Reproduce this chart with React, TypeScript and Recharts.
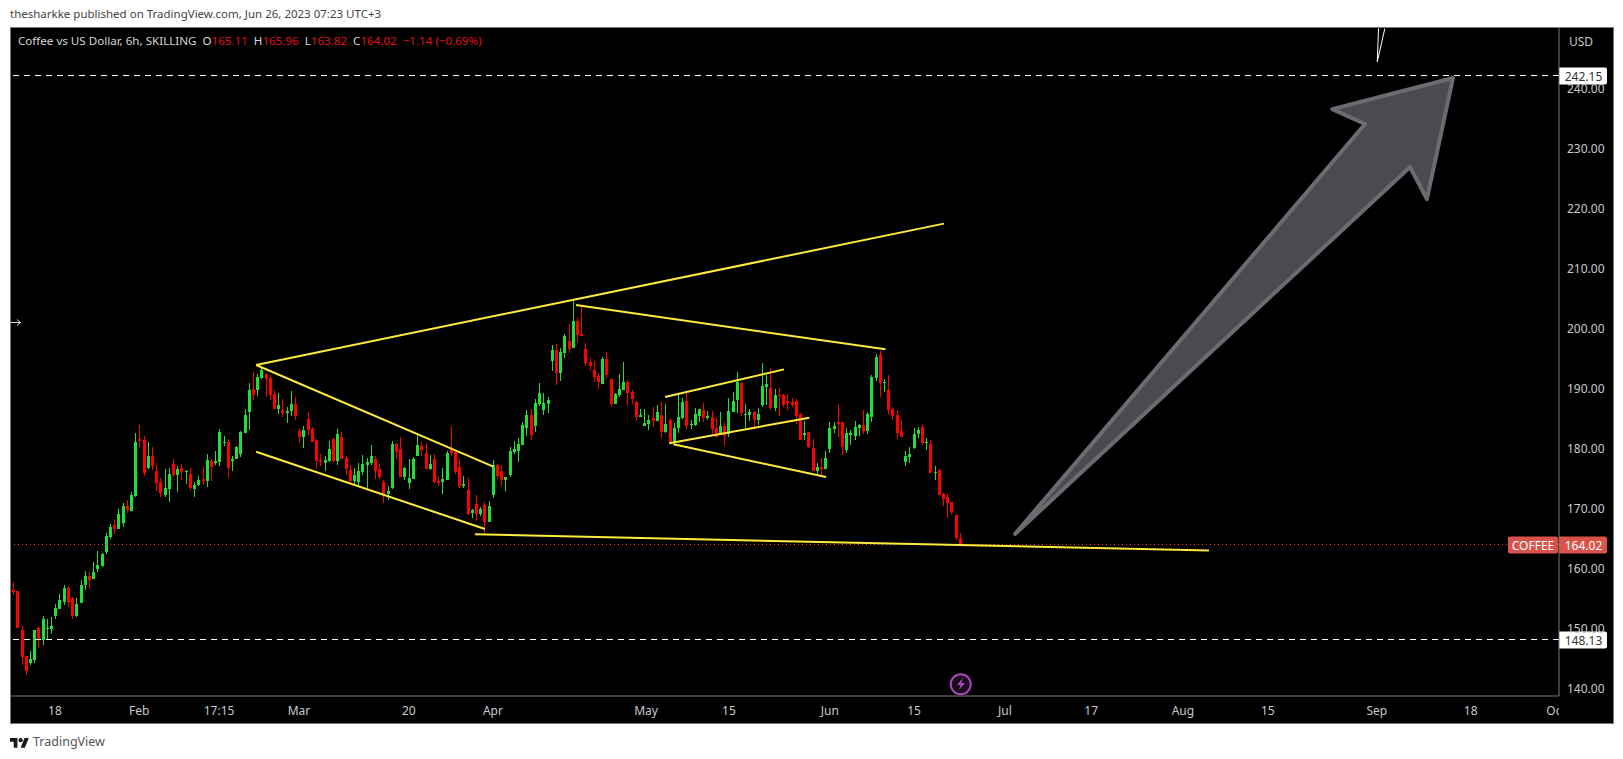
import React from 'react';
import { ComposedChart, Bar, Line, XAxis, YAxis, ReferenceLine } from 'recharts';

// Coffee vs USD, 6h candles
const opens = [
  156.43,156.27,149.77,145.43,144.27,144.77,150.1,148.1,149.93,149.93,
  152.1,153.27,154.43,156.77,155.1,152.1,154.27,157.27,158.77,158.27,
  159.93,160.43,162.77,165.27,167.27,166.6,167.6,170.43,169.6,172.1,
  181.6,181.43,176.77,178.77,176.27,174.43,172.27,173.27,177.43,175.6,
  176.77,176.1,175.77,173.27,173.93,174.93,174.6,177.93,177.6,177.77,
  180.93,181.1,177.93,178.27,179.1,182.6,186.1,189.93,189.77,191.77,
  192.43,191.77,189.1,186.6,186.43,185.93,186.27,187.43,182.93,181.93,
  184.93,183.27,181.43,178.1,177.6,177.93,181.6,177.93,181.93,178.43,
  176.43,174.6,174.43,176.1,177.27,177.6,178.27,176.6,174.43,172.43,
  173.43,180.77,179.93,175.27,174.27,174.93,178.77,180.43,179.27,176.6,
  178.27,174.6,174.43,174.77,180.1,179.43,176.93,173.77,173.1,169.27,
  170.77,169.1,170.6,167.77,172.27,177.27,176.32,174.77,175.6,179.43,
  179.6,180.6,183.43,185.6,183.77,187.43,186.43,187.43,194.6,196.43,
  192.6,195.93,197.93,196.77,201.27,199.1,196.6,194.43,193.1,192.1,
  190.77,194.93,191.6,187.43,188.93,189.77,191.1,189.43,187.77,185.27,
  183.77,184.1,185.1,184.6,185.6,182.77,184.77,180.93,183.43,185.1,
  187.93,183.93,183.93,185.43,186.43,185.1,185.27,183.43,182.6,183.77,
  182.43,186.1,188.1,190.93,185.6,185.6,186.1,184.77,187.27,190.27,
  190.1,186.77,188.93,188.93,187.93,187.77,187.93,185.77,182.27,182.77,
  180.1,176.27,176.93,176.6,179.93,183.27,184.43,184.43,179.77,182.27,
  182.1,183.43,183.93,182.93,185.27,191.77,195.6,190.93,189.77,186.6,
  185.6,182.93,177.77,178.6,180.1,182.43,183.6,180.93,180.77,175.93,
  176.43,172.43,171.93,171.1,168.93,165.11,
];
const highs = [
  157.77,156.27,150.21,145.43,146.21,149.77,150.43,152.1,151.6,151.93,
  154.1,155.77,157.27,157.1,155.27,155.1,158.1,159.6,159.43,161.1,
  162.93,162.6,165.93,167.43,168.27,169.93,170.93,171.43,172.77,182.6,
  183.93,182.1,181.1,180.27,177.6,175.1,176.6,176.77,178.27,177.1,
  177.43,176.43,176.77,174.43,175.43,176.93,179.1,178.27,179.6,183.27,
  182.1,181.6,178.77,180.43,182.93,186.6,190.93,192.77,192.43,193.77,
  192.6,192.27,189.77,189.27,188.27,186.93,189.6,188.6,183.27,183.77,
  186.1,183.6,181.6,179.1,178.77,181.27,181.77,183.27,182.77,178.77,
  177.27,176.77,177.6,178.93,178.43,180.6,178.77,177.43,174.77,173.77,
  181.27,180.93,181.93,176.93,178.27,178.6,182.6,181.1,180.93,178.93,
  179.1,175.43,176.77,179.6,183.77,179.77,178.27,175.43,175.1,169.93,
  172.27,170.27,171.1,171.27,178.1,177.43,177.27,175.22,180.27,181.27,
  181.77,184.43,186.43,186.6,188.27,190.93,189.27,188.6,197.27,197.43,
  196.77,199.1,200.77,204.6,201.77,203.93,197.6,195.1,194.6,192.6,
  195.27,196.1,191.77,189.27,192.43,194.43,191.27,189.77,187.93,186.6,
  186.6,185.6,186.93,187.27,187.77,187.43,185.1,184.27,189.1,188.43,
  189.6,184.77,186.77,186.6,187.6,186.27,186.27,185.1,186.1,184.43,
  188.43,189.43,192.77,191.1,187.43,186.6,186.27,186.77,194.27,192.27,
  193.43,189.93,190.1,189.1,189.1,188.43,188.27,185.93,184.6,182.77,
  181.6,177.6,178.43,179.6,184.43,184.43,187.43,184.43,183.43,183.1,
  184.6,184.1,186.43,186.1,192.27,195.77,196.27,191.6,192.27,186.93,
  186.43,184.77,179.6,180.27,183.43,183.54,183.93,181.77,181.43,177.1,
  176.6,172.6,172.43,171.1,169.1,165.96,
];
const lows = [
  155.6,150.1,143.93,142.27,143.93,144.27,146.93,147.27,148.27,149.1,
  151.6,153.27,153.93,153.6,151.6,151.93,154.27,156.43,156.6,158.27,
  159.43,160.27,162.43,164.93,165.77,166.6,166.93,169.27,169.6,171.93,
  180.1,175.43,176.6,176.43,172.93,171.93,171.93,171.1,175.27,172.77,
  174.77,174.1,173.1,171.93,173.77,173.93,173.6,174.6,177.27,177.1,
  180.43,175.1,176.27,178.27,178.6,182.6,183.1,188.1,188.77,191.6,
  188.6,188.1,186.6,185.77,185.27,184.27,185.43,184.77,180.93,180.1,
  182.27,181.1,176.54,177.1,176.27,177.77,177.77,177.27,178.27,175.6,
  174.1,173.77,173.54,175.6,173.1,177.27,174.93,174.93,170.93,171.43,
  173.27,178.27,175.27,174.77,173.27,174.93,178.77,178.77,176.6,176.43,
  174.27,173.77,172.43,174.77,178.77,175.77,173.43,173.43,168.93,168.43,
  167.93,168.77,165.88,167.77,171.77,174.93,173.77,172.94,175.27,179.1,
  177.77,180.6,182.1,181.43,182.77,187.1,185.6,185.93,192.93,190.6,
  191.27,195.1,195.93,196.77,197.6,198.77,193.77,193.1,191.1,189.93,
  190.77,191.77,186.93,187.43,188.6,189.77,187.1,187.43,184.6,185.27,
  183.77,183.1,183.6,184.6,181.77,182.6,180.93,180.6,182.6,184.93,
  183.27,183.27,183.77,184.43,184.43,184.77,182.43,181.93,182.6,180.43,
  181.93,186.1,185.93,185.43,183.43,184.6,183.1,183.93,186.93,187.27,
  186.43,186.27,185.43,186.93,186.43,186.93,184.1,181.43,181.43,180.1,
  176.27,175.77,175.43,176.6,179.27,182.6,181.93,178.93,179.27,180.6,
  181.43,182.1,182.43,182.43,184.43,191.27,188.6,189.43,185.6,184.77,
  181.6,181.93,177.1,177.6,179.93,181.77,180.6,179.77,175.93,174.77,
  172.27,170.43,168.43,169.1,164.77,163.82,
];
const closes = [
  156.16,150.1,145.27,142.93,144.93,149.77,148.1,151.6,150.1,150.43,
  153.43,154.77,156.77,154.43,152.1,154.1,157.27,158.77,158.1,159.43,
  160.6,162.43,165.43,166.93,166.6,169.1,170.43,169.77,172.27,181.1,
  181.27,175.93,178.77,177.1,174.27,172.6,173.43,175.77,175.6,176.6,
  176.1,176.27,173.43,173.93,174.77,174.6,178.1,176.93,177.93,182.77,
  181.1,176.77,178.27,180.27,182.77,185.6,189.77,188.93,191.93,193.1,
  191.6,188.93,186.6,187.27,185.93,186.27,187.43,185.43,181.93,183.1,
  183.1,181.1,177.93,177.77,178.1,179.93,177.93,182.43,178.27,176.6,
  174.6,175.6,176.27,177.43,177.77,178.77,176.27,175.27,172.43,172.93,
  180.77,179.43,175.27,176.77,175.1,178.27,180.6,179.77,176.6,177.43,
  174.43,174.27,174.93,179.27,179.27,176.1,173.77,174.1,169.1,169.77,
  169.1,169.93,167.77,170.43,177.27,175.43,174.77,175.22,179.6,179.93,
  180.77,183.93,185.6,182.27,187.6,189.27,187.6,188.1,196.43,192.6,
  196.1,198.77,196.6,201.27,198.93,198.77,194.27,193.77,191.93,191.1,
  194.93,192.27,187.43,189.1,189.93,191.1,189.27,188.27,185.27,185.6,
  184.27,184.77,184.6,186.1,182.77,184.1,180.93,183.43,185.27,187.77,
  183.77,184.1,185.77,186.6,185.1,185.43,183.27,181.93,183.77,182.1,
  186.27,187.93,191.1,185.93,185.77,186.1,184.77,185.77,190.43,190.77,
  186.77,188.93,188.77,187.27,187.6,187.27,185.43,181.43,182.6,180.27,
  176.27,176.93,176.6,178.43,183.43,183.77,184.1,180.27,182.6,182.6,
  183.6,183.93,182.93,185.77,191.93,195.27,190.93,191.1,186.43,185.43,
  182.6,181.93,178.77,179.1,182.43,183.1,180.93,181.1,175.93,176.1,
  172.27,171.6,170.93,169.43,165.1,164.02,
];

const priceTicks = [140, 150, 160, 170, 180, 190, 200, 210, 220, 230, 240];
const timeTicks = [9.9, 29.9, 48.9, 67.9, 94, 114, 150.4, 170.1, 194.1, 214.1, 235.7, 256.2, 278, 298.2, 324.1, 346.4, 366.7];
const timeLabels = ['18', 'Feb', '17:15', 'Mar', '20', 'Apr', 'May', '15', 'Jun', '15', 'Jul', '17', 'Aug', '15', 'Sep', '18', 'Oct'];

// trend lines drawn by the author: [bar, price, bar, price]
const trendLines = [
  [57.7, 193.93, 221.2, 217.49],
  [57.7, 193.93, 114.1, 176.99],
  [57.7, 179.49, 112.1, 166.61],
  [109.75, 165.72, 284.2, 163.01],
  [133.75, 203.93, 207.3, 196.55],
  [154.9, 188.6, 183.2, 193.21],
  [155.9, 180.89, 189.2, 185.15],
  [156.9, 180.72, 193.2, 175.27],
];
const whiteLines = [
  [324.2, 244.46, 324.5, 250],
  [324.2, 244.46, 326.0, 250],
];
const arrowBars = [238.1, 321.3, 313.5, 342.2, 336.0, 332.0];
const arrowPrices = [165.78, 234.09, 236.58, 241.75, 221.59, 226.92];

const LAST_PRICE = 164.02;
const TARGET = 242.15;
const SUPPORT = 148.13;

const candles = opens.map((open, i) => ({ i, open, high: highs[i], low: lows[i], close: closes[i] }));
const arrowData = arrowBars.map((i, n) => ({ i, price: arrowPrices[n] }));

const FONT = '"Noto Sans", sans-serif';
const UP = '#22dd3a';
const DOWN = '#ff0000';

const Candle = (props: any) => {
  const { x, y, width, height, payload } = props;
  const { open, high, low, close } = payload;
  const pxPerPrice = height / (high - low);
  const color = close >= open ? UP : DOWN;
  const center = Math.round(x + width / 2 - 0.5);
  const top = Math.round(y + (high - Math.max(open, close)) * pxPerPrice);
  const bottom = Math.round(y + (high - Math.min(open, close)) * pxPerPrice);
  return (
    <g shapeRendering="crispEdges">
      <rect x={center} y={Math.round(y)} width={1} height={Math.max(1, Math.round(height))} fill={color} />
      <rect x={center - 1} y={top} width={3} height={Math.max(1, bottom - top)} fill={color} />
    </g>
  );
};

// drawn from the first dot since it gets all the scaled points
const ArrowDot = (props: any) => {
  if (props.index !== 0) return <g key={props.index} />;
  const pts = props.points.map((p: any) => `${p.x},${p.y}`).join(' ');
  return <polygon key="arrow" points={pts} fill="#4a4b50" stroke="#6b6c72" strokeWidth={4} strokeLinejoin="round" />;
};

const TimeTick = (props: any) => {
  const { x, y, index } = props;
  return (
    <text x={x} y={y + 10} textAnchor="middle" fill="#c8c9ce" fontSize={12} fontFamily={FONT} clipPath="url(#timeClip)">
      {timeLabels[index]}
    </text>
  );
};

const PriceTag = (props: any) => {
  const { viewBox, value, bg, fg, name } = props;
  const right = viewBox.x + viewBox.width;
  const y = Math.round(viewBox.y);
  return (
    <g>
      <path d={`M${right} ${y - 8.5}h46a2 2 0 0 1 2 2v13a2 2 0 0 1 -2 2h-46z`} fill={bg} />
      <text x={right + 24.5} y={y + 4.5} textAnchor="middle" fontSize={12} fontFamily={FONT} fill={fg}>{value}</text>
      {name && <rect x={right - 51} y={y - 8.5} width={50} height={17} rx={2} fill={bg} />}
      {name && <text x={right - 26} y={y + 4.5} textAnchor="middle" fontSize={12} fontFamily={FONT} fill={fg}>{name}</text>}
    </g>
  );
};

const App = () => (
  <div style={{ position: 'absolute', left: 0, top: 0, width: 1623, height: 759, background: '#fff', overflow: 'hidden' }}>
    <div style={{ position: 'absolute', left: 10, top: 6, fontFamily: FONT, fontSize: 11.5, color: '#444', whiteSpace: 'nowrap' }}>
      thesharkke published on TradingView.com, Jun 26, 2023 07:23 UTC+3
    </div>
    <div style={{ position: 'absolute', left: 10, top: 27, width: 1602, height: 695, background: '#000', border: '1px solid #787878' }} />
    <div style={{ position: 'absolute', left: 0, top: 0 }}>
      <ComposedChart width={1623} height={759} data={candles} margin={{ top: 28, right: 10, bottom: 36, left: 11 }}>
        <defs>
          <clipPath id="timeClip">
            <rect x={11} y={696} width={1548} height={27} />
          </clipPath>
        </defs>
        <XAxis
          dataKey="i"
          type="number"
          domain={[-0.55, 367.4]}
          allowDataOverflow
          ticks={timeTicks}
          interval={0}
          height={27}
          tickSize={0}
          tick={<TimeTick />}
          tickMargin={9}
          axisLine={{ stroke: '#787878' }}
        />
        <YAxis
          orientation="right"
          type="number"
          domain={[138.78, 250.09]}
          allowDataOverflow
          ticks={priceTicks}
          interval={0}
          width={54}
          tickSize={0}
          tickMargin={8}
          tickFormatter={(v: number) => v.toFixed(2)}
          tick={{ fill: '#c8c9ce', fontSize: 12, fontFamily: FONT }}
          axisLine={{ stroke: '#787878' }}
        />
        <ReferenceLine y={LAST_PRICE} stroke="#ff3b30" strokeDasharray="1 3" shapeRendering="crispEdges"
          label={<PriceTag value={LAST_PRICE.toFixed(2)} name="COFFEE" bg="#d9534a" fg="#fff" />} />
        <ReferenceLine y={TARGET} stroke="#fff" strokeDasharray="6 5" shapeRendering="crispEdges"
          label={<PriceTag value={TARGET.toFixed(2)} bg="#fff" fg="#333" />} />
        <ReferenceLine y={SUPPORT} stroke="#fff" strokeDasharray="6 5" shapeRendering="crispEdges"
          label={<PriceTag value={SUPPORT.toFixed(2)} bg="#fff" fg="#333" />} />
        <Bar dataKey={(d: any) => [d.low, d.high]} barSize={3} shape={<Candle />} isAnimationActive={false} />
        {trendLines.map((t, n) => (
          <ReferenceLine key={n} segment={[{ x: t[0], y: t[1] }, { x: t[2], y: t[3] }]} stroke="#ffeb3b" strokeWidth={2} />
        ))}
        {whiteLines.map((t, n) => (
          <ReferenceLine key={n} segment={[{ x: t[0], y: t[1] }, { x: t[2], y: t[3] }]} stroke="#fff" strokeWidth={1} />
        ))}
        <Line data={arrowData} dataKey="price" stroke="none" dot={ArrowDot} isAnimationActive={false} legendType="none" />
      </ComposedChart>
    </div>
    <div style={{ position: 'absolute', left: 18, top: 33, fontFamily: FONT, fontSize: 11.6, color: '#d8d8d8', whiteSpace: 'pre' }}>
      {'Coffee vs US Dollar, 6h, SKILLING  O'}<span style={{ color: '#e0101a' }}>165.11</span>{'  H'}<span style={{ color: '#e0101a' }}>165.96</span>{'  L'}<span style={{ color: '#e0101a' }}>163.82</span>{'  C'}<span style={{ color: '#e0101a' }}>164.02  −1.14 (−0.69%)</span>
    </div>
    <div style={{ position: 'absolute', left: 1569, top: 33, fontFamily: FONT, fontSize: 12, color: '#c8c9ce' }}>USD</div>
    <svg style={{ position: 'absolute', left: 0, top: 0, pointerEvents: 'none' }} width={1623} height={759}>
      <path d="M10.5 322.5h10M17 319.5l3.5 3-3.5 3" stroke="#ddd" strokeWidth={1} fill="none" />
      <circle cx={960.7} cy={684.3} r={10} fill="#1a0a1e" stroke="#ab47bc" strokeWidth={2} />
      <path d="M963 678l-6 7h3.5l-1.500 5 6-7h-3.500z" fill="#ab47bc" />
      <g transform="translate(10 736) scale(0.53)" fill="#1a1a1a">
        <path d="M14 22H7V11H0V4h14v18zM28 22h-8l7.500-18h8L28 22z" />
        <circle cx="20" cy="8" r="4" />
      </g>
    </svg>
    <div style={{ position: 'absolute', left: 33, top: 733, fontFamily: FONT, fontSize: 12.5, color: '#555' }}>TradingView</div>
  </div>
);

export default App;
